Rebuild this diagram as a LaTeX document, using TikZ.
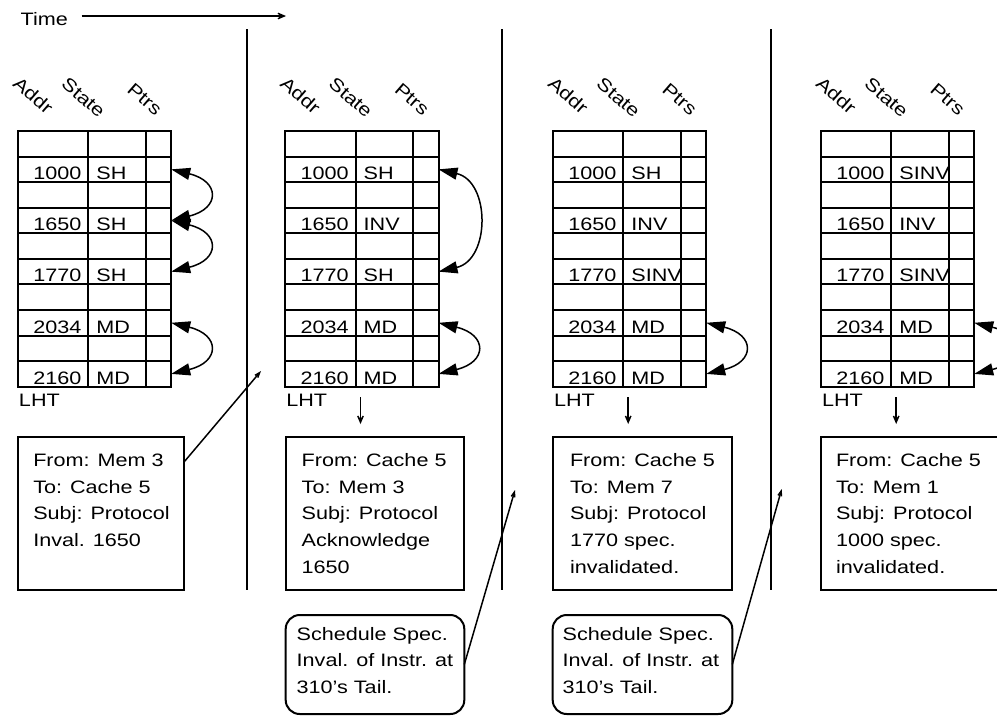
\documentclass[tikz,border=0pt]{standalone}
\usepackage{fontspec}
\setmainfont{Liberation Sans}[FakeStretch=1.2]
\usetikzlibrary{arrows.meta}
\begin{document}
\begin{tikzpicture}[x=1pt,y=-1pt,
  every node/.style={inner sep=0pt, outer sep=0pt, font=\fontsize{18}{26.7}\selectfont},
  grid/.style={line width=2pt},
  sep/.style={line width=2pt},
  lbl/.style={anchor=base west},
  txt/.style={anchor=base west, align=left},
  hdr/.style={rotate=-41, anchor=center},
  ptr/.style={line width=1.5pt, {Triangle[length=19pt,width=12pt]}-{Triangle[length=19pt,width=12pt]}},
  down/.style={line width=1.5pt, -{Stealth[length=14pt,width=12pt,inset=9pt]}},
  diag/.style={line width=1.5pt, -{Stealth[length=14pt,width=10pt,inset=9pt]}},
  timearrow/.style={line width=2pt, -{Stealth[length=14pt,width=12pt,inset=9pt]}},
  msgbox/.style={draw, line width=2pt, anchor=north west, minimum height=153.3pt},
  rbox/.style={draw, line width=2pt, anchor=north west, rounded corners=14pt, minimum height=99pt}
]
\useasboundingbox (0,0) rectangle (997,716);
\clip (0,0) rectangle (997,716);

% time axis
\node[lbl] (time) at (20.7,25) {Time};
\coordinate (ts) at (81.7,16);
\coordinate (te) at (286,16);
\draw[timearrow] (ts) -- (te);

% separators
\draw[sep] (247,29) -- (247,590);
\draw[sep] (502,29) -- (502,590);
\draw[sep] (770.7,29) -- (770.7,590);

% tables
\foreach \i/\x/\sa/\sb/\sc in {1/17.7/SH/SH/SH, 2/285/SH/INV/SH, 3/552.7/SH/INV/SINV, 4/820.7/SINV/INV/SINV}{
  \begin{scope}[shift={(\x,0)}]
    \node[hdr] (h\i a) at (15.5,95.5) {Addr};
    \node[hdr] (h\i s) at (65.8,97.5) {State};
    \node[hdr] (h\i p) at (127,99.5) {Ptrs};
    \draw[grid] (0,131) rectangle (153.5,386.7);
    \foreach \r in {1,...,9} \draw[grid] (0,{131+25.57*\r}) -- (153.5,{131+25.57*\r});
    \foreach \c in {70.7,128.2} \draw[grid] (\c,131) -- (\c,386.7);
    \foreach \r/\a/\s in {1/1000/\sa, 3/1650/\sb, 5/1770/\sc, 7/2034/MD, 9/2160/MD}{
      \node[anchor=base east] (t\i a\r) at (63.7,{131+25.57*(\r+1)-2.5}) {\a};
      \node[anchor=base west] (t\i s\r) at (78.7,{131+25.57*(\r+1)-2.5}) {\s};
      \coordinate (p\i-\r) at (153.5,{131+25.57*(\r+0.5)});
    }
    \node[lbl] (lht\i) at (1.3,406.7) {LHT};
    \coordinate (ds\i) at (75.5,397);
    \coordinate (de\i) at (75.5,424);
  \end{scope}
}

% pointer arcs
\draw[ptr] (p1-1) .. controls +(49,12) and +(49,-12) .. (p1-3);
\draw[ptr] (p1-3) .. controls +(49,12) and +(49,-12) .. (p1-5);
\draw[ptr] (p1-7) .. controls +(49,12) and +(49,-12) .. (p1-9);
\draw[ptr] (p2-1) .. controls +(52,12) and +(52,-12) .. (p2-5);
\draw[ptr] (p2-7) .. controls +(49,12) and +(49,-12) .. (p2-9);
\draw[ptr] (p3-7) .. controls +(49,12) and +(49,-12) .. (p3-9);
\draw[ptr] (p4-7) .. controls +(49,12) and +(49,-12) .. (p4-9);

% down arrows
\draw[down] (ds2) -- (de2);
\draw[down] (ds3) -- (de3);
\draw[down] (ds4) -- (de4);

% message boxes (text node base = last line baseline)
\node[msgbox, minimum width=166.6pt] (m1) at (17.7,436.7) {};
\node[txt] (m1t) at (33.3,546.6) {From: Mem 3\\To: Cache 5\\Subj: Protocol\\Inval. 1650};
\node[msgbox, minimum width=178.6pt] (m2) at (285.7,436.7) {};
\node[txt] (m2t) at (301.7,573.3) {From: Cache 5\\To: Mem 3\\Subj: Protocol\\Acknowledge\\1650};
\node[msgbox, minimum width=179.6pt] (m3) at (552.7,436.7) {};
\node[txt] (m3t) at (570,573.3) {From: Cache 5\\To: Mem 7\\Subj: Protocol\\1770 spec.\\invalidated.};
\node[msgbox, minimum width=179.6pt] (m4) at (821,436.7) {};
\node[txt] (m4t) at (836,573.3) {From: Cache 5\\To: Mem 1\\Subj: Protocol\\1000 spec.\\invalidated.};

% schedule boxes
\node[rbox, minimum width=178.6pt] (s1) at (285.7,615) {};
\node[txt] (s1t) at (296.7,693.4) {Schedule Spec.\\Inval. of Instr. at\\310's Tail.};
\node[rbox, minimum width=179.6pt] (s2) at (552.7,615) {};
\node[txt] (s2t) at (562.7,693.4) {Schedule Spec.\\Inval. of Instr. at\\310's Tail.};

% connectors
\coordinate (a1) at (261,371);
\coordinate (a2) at (515,490);
\coordinate (a3) at (781.7,489);
\draw[diag] (m1.north east) ++(0,25) -- (a1);
\draw[diag] (s1.east) -- (a2);
\draw[diag] (s2.east) -- (a3);
\end{tikzpicture}
\end{document}
